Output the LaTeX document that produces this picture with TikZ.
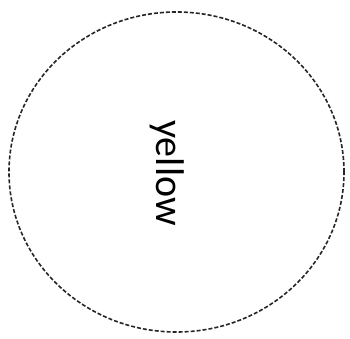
\documentclass[tikz,border=0pt]{standalone}
\usepackage{fontspec}
\setmainfont{Carlito}
\usetikzlibrary{shapes.geometric}
\tikzset{blob/.style={draw=black!85, dash pattern=on 4pt off 2pt, line width=1.6pt, ellipse, minimum width=335pt, minimum height=320pt, inner sep=0pt}}
\begin{document}
\begin{tikzpicture}[x=1pt,y=1pt]
\useasboundingbox (0,0) rectangle (350,339);
\node[blob] (c) at (176.5,167) {};
\node[rotate=-90, font=\fontsize{40}{42}\selectfont] (t) at (167,166) {yellow};
\end{tikzpicture}
\end{document}
